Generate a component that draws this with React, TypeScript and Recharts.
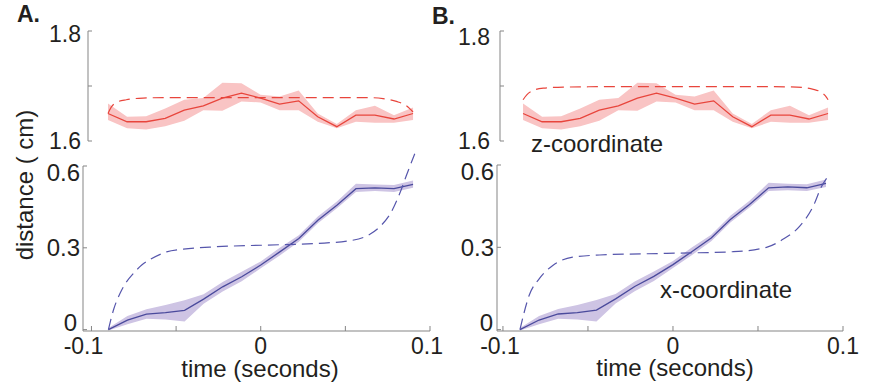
import React from 'react';
import { ComposedChart, Line, Area, XAxis, YAxis, ReferenceLine } from 'recharts';

// ---- data ----
const TIME = [-0.09, -0.07875, -0.0675, -0.05625, -0.045, -0.03375, -0.0225, -0.01125, 0, 0.01125, 0.0225, 0.03375, 0.045, 0.05625, 0.0675, 0.07875, 0.09];

const Z_MEAN = [1.650, 1.635, 1.635, 1.641, 1.656, 1.664, 1.678, 1.687, 1.678, 1.667, 1.673, 1.644, 1.626, 1.647, 1.647, 1.640, 1.650];
const Z_LOW = [1.638, 1.623, 1.621, 1.627, 1.637, 1.656, 1.655, 1.672, 1.670, 1.656, 1.656, 1.635, 1.623, 1.635, 1.633, 1.633, 1.638];
const Z_HIGH = [1.668, 1.644, 1.645, 1.659, 1.675, 1.678, 1.706, 1.705, 1.684, 1.681, 1.692, 1.650, 1.631, 1.656, 1.664, 1.647, 1.661];

const X_MEAN = [0.0, 0.035, 0.057, 0.062, 0.071, 0.112, 0.157, 0.194, 0.237, 0.285, 0.334, 0.401, 0.456, 0.517, 0.520, 0.517, 0.533];
const X_LOW = [-0.003, 0.02, 0.04, 0.037, 0.03, 0.095, 0.14, 0.177, 0.225, 0.272, 0.322, 0.39, 0.445, 0.505, 0.508, 0.505, 0.52];
const X_HIGH = [0.006, 0.05, 0.075, 0.09, 0.108, 0.13, 0.175, 0.212, 0.25, 0.3, 0.346, 0.415, 0.47, 0.535, 0.532, 0.53, 0.547];

// model (dashed) curves
const Z_MODEL_A_T = [-0.09, -0.088, -0.0851, -0.0792, -0.0693, -0.0556, 0.0, 0.0625, 0.0723, 0.0802, 0.0861, 0.089, 0.09];
const Z_MODEL_A = [1.650, 1.662, 1.670, 1.675, 1.678, 1.679, 1.679, 1.679, 1.677, 1.672, 1.664, 1.656, 1.653];

const Z_MODEL_B_T = [-0.09, -0.0878, -0.0839, -0.078, -0.0662, -0.0269, 0.0518, 0.0715, 0.0813, 0.0862, 0.0892, 0.09];
const Z_MODEL_B = [1.675, 1.684, 1.692, 1.696, 1.698, 1.699, 1.699, 1.698, 1.694, 1.688, 1.679, 1.675];

const X_MODEL_A_T = [-0.09, -0.087, -0.0831, -0.0792, -0.0752, -0.0703, -0.0654, -0.0556, -0.0457, -0.0261, 0.0034, 0.033, 0.0526, 0.0625, 0.0703, 0.0772, 0.0821, 0.0861, 0.091];
const X_MODEL_A = [0.0, 0.072, 0.133, 0.176, 0.206, 0.237, 0.257, 0.285, 0.295, 0.304, 0.31, 0.316, 0.326, 0.343, 0.377, 0.432, 0.499, 0.566, 0.645];

const X_MODEL_B_T = [-0.09, -0.0845, -0.0786, -0.0707, -0.059, -0.0432, -0.0039, 0.0354, 0.055, 0.0649, 0.0747, 0.0825, 0.0874, 0.0904];
const X_MODEL_B = [0.0, 0.126, 0.186, 0.234, 0.264, 0.272, 0.278, 0.284, 0.30, 0.33, 0.378, 0.45, 0.522, 0.552];

const X_TICKS = [-0.1, -0.05, 0, 0.05, 0.1];
const X_TICK_LABELS = ['-0.1', '', '0', '', '0.1'];
const Z_TICKS = [1.6, 1.7, 1.8];
const Z_TICK_LABELS = ['1.6', '', '1.8'];
const D_TICKS = [0, 0.3, 0.6];
const D_TICK_LABELS = ['0', '0.3', '0.6'];

// ---- styles ----
const FONT = '"Liberation Sans", Arial, Helvetica, sans-serif';
const AXIS = '#858585';
const TEXT = '#231f20';
const RED = '#e8453c';
const PINK = '#f9c4c4';
const PURPLE = '#4a4a9c';
const LAVENDER = '#cec4e4';
const BLUE_DASH = '#5656ac';

const W = 874;
const H = 385;

const zRows = TIME.map((t, i) => ({ t, mean: Z_MEAN[i], band: [Z_LOW[i], Z_HIGH[i]] }));
const xRows = TIME.map((t, i) => ({ t, mean: X_MEAN[i], band: [X_LOW[i], X_HIGH[i]] }));
const zModelA = Z_MODEL_A_T.map((t, i) => ({ t, v: Z_MODEL_A[i] }));
const zModelB = Z_MODEL_B_T.map((t, i) => ({ t, v: Z_MODEL_B[i] }));
const xModelA = X_MODEL_A_T.map((t, i) => ({ t, v: X_MODEL_A[i] }));
const xModelB = X_MODEL_B_T.map((t, i) => ({ t, v: X_MODEL_B[i] }));

function labelFor(value: number, ticks: number[], labels: string[]) {
  const idx = ticks.findIndex((v) => Math.abs(v - value) < 1e-9);
  return idx >= 0 ? labels[idx] : '';
}

function makeYTick(axisX: number, ticks: number[], labels: string[], gapFor: (v: number) => number, fontSize: number, dyFor: (v: number) => number) {
  return (props: any) => {
    const { y, payload } = props;
    const v = payload.value;
    return (
      <g>
        <line x1={axisX} y1={y} x2={axisX + 4} y2={y} stroke={AXIS} strokeWidth={1} />
        <text x={axisX - gapFor(v)} y={y + fontSize * 0.36 + dyFor(v)} textAnchor="end" fontSize={fontSize} fontFamily={FONT} fill={TEXT}>
          {labelFor(v, ticks, labels)}
        </text>
      </g>
    );
  };
}

function makeXTick(axisY: number, minusDx: number, plusDx: number) {
  return (props: any) => {
    const { x, payload } = props;
    const v = payload.value;
    const dx = v < 0 ? minusDx : v > 0 ? plusDx : 0;
    return (
      <g>
        <line x1={x} y1={axisY} x2={x} y2={axisY - 5} stroke={AXIS} strokeWidth={1} />
        <text x={x + dx} y={354} textAnchor="middle" fontSize={23} fontFamily={FONT} fill={TEXT}>
          {labelFor(v, X_TICKS, X_TICK_LABELS)}
        </text>
      </g>
    );
  };
}

type TopCfg = { left: number; right: number; top: number; bottom: number; xMin: number; model: { t: number; v: number }[]; gap: number; dy18: number };

function TopChart({ cfg }: { cfg: TopCfg }) {
  return (
    <div style={{ position: 'absolute', left: 0, top: 0 }}>
      <ComposedChart
        width={W}
        height={H}
        data={zRows}
        margin={{ top: cfg.top, left: cfg.left - 1, right: W - cfg.right, bottom: H - cfg.bottom }}
      >
        <XAxis type="number" dataKey="t" domain={[cfg.xMin, 0.1]} allowDataOverflow hide />
        <YAxis
          type="number"
          width={1}
          domain={[1.6, 1.8]}
          allowDataOverflow
          ticks={Z_TICKS}
          interval={0}
          axisLine={{ stroke: AXIS, strokeWidth: 1 }}
          tickLine={false}
          tickSize={0}
          tickMargin={0}
          tick={makeYTick(cfg.left, Z_TICKS, Z_TICK_LABELS, () => cfg.gap, 23, (v) => (v > 1.75 ? cfg.dy18 : 0))}
        />
        <Area dataKey="band" stroke="none" fill={PINK} fillOpacity={1} isAnimationActive={false} />
        <Line dataKey="mean" stroke={RED} strokeWidth={1.3} dot={false} isAnimationActive={false} />
        <Line data={cfg.model} dataKey="v" type="monotone" stroke={RED} strokeWidth={1.2} strokeDasharray="11 6" dot={false} isAnimationActive={false} />
      </ComposedChart>
    </div>
  );
}

type BotCfg = { left: number; right: number; top06: number; bottom: number; xMin: number; model: { t: number; v: number }[]; minusDx: number; plusDx: number; zeroGap: number };

function BottomChart({ cfg }: { cfg: BotCfg }) {
  const yMin = -0.005;
  const yMax = 0.66;
  const k = (cfg.bottom - cfg.top06) / (0.6 - yMin);
  const plotTop = cfg.bottom - (yMax - yMin) * k;
  return (
    <div style={{ position: 'absolute', left: 0, top: 0 }}>
      <ComposedChart
        width={W}
        height={H}
        data={xRows}
        margin={{ top: plotTop, left: cfg.left - 1, right: W - cfg.right, bottom: H - cfg.bottom - 1 }}
      >
        <XAxis
          type="number"
          dataKey="t"
          height={1}
          domain={[cfg.xMin, 0.1]}
          allowDataOverflow
          ticks={X_TICKS}
          interval={0}
          axisLine={{ stroke: AXIS, strokeWidth: 1 }}
          tickLine={false}
          tickSize={0}
          tickMargin={0}
          tick={makeXTick(cfg.bottom, cfg.minusDx, cfg.plusDx)}
        />
        <YAxis
          type="number"
          width={1}
          domain={[yMin, yMax]}
          allowDataOverflow
          ticks={D_TICKS}
          interval={0}
          axisLine={false}
          tickLine={false}
          tickSize={0}
          tickMargin={0}
          tick={makeYTick(cfg.left, D_TICKS, D_TICK_LABELS, (v) => (v < 0.1 ? cfg.zeroGap : 3), 24, (v) => (v > 0.5 ? 6 : v < 0.1 ? -7 : 0))}
        />
        <ReferenceLine
          segment={[{ x: cfg.xMin, y: yMin }, { x: cfg.xMin, y: 0.6 }]}
          stroke={AXIS}
          strokeWidth={1}
          ifOverflow="visible"
        />
        <Area dataKey="band" stroke="none" fill={LAVENDER} fillOpacity={1} isAnimationActive={false} />
        <Line dataKey="mean" stroke={PURPLE} strokeWidth={1.3} dot={false} isAnimationActive={false} />
        <Line data={cfg.model} dataKey="v" type="monotone" stroke={BLUE_DASH} strokeWidth={1.2} strokeDasharray="11 6" dot={false} isAnimationActive={false} />
      </ComposedChart>
    </div>
  );
}

function Labels() {
  const t = { fontFamily: FONT, fill: TEXT } as const;
  return (
    <svg width={W} height={H} style={{ position: 'absolute', left: 0, top: 0, pointerEvents: 'none' }}>
      <text x={17} y={22} fontSize={23} fontWeight="bold" {...t}>A.</text>
      <text x={432} y={24} fontSize={23} fontWeight="bold" {...t}>B.</text>
      <text x={33} y={185} fontSize={24} textAnchor="middle" transform="rotate(-90 33 185)" {...t}>distance ( cm)</text>
      <text x={260} y={377} fontSize={24} textAnchor="middle" {...t}>time (seconds)</text>
      <text x={675} y={376} fontSize={24} textAnchor="middle" {...t}>time (seconds)</text>
      <text x={531} y={152} fontSize={24} {...t}>z-coordinate</text>
      <text x={660} y={298} fontSize={24} {...t}>x-coordinate</text>
    </svg>
  );
}

export default function App() {
  return (
    <div style={{ position: 'absolute', left: 0, top: 0, width: W, height: H, background: '#ffffff', overflow: 'hidden' }}>
      <TopChart cfg={{ left: 88, right: 430, top: 31, bottom: 141, xMin: -0.1018, model: zModelA, gap: 7, dy18: 3 }} />
      <TopChart cfg={{ left: 500, right: 845, top: 31, bottom: 141, xMin: -0.1036, model: zModelB, gap: 10, dy18: 6 }} />
      <BottomChart cfg={{ left: 83, right: 430, top06: 166, bottom: 331, xMin: -0.105, model: xModelA, minusDx: -8, plusDx: -3, zeroGap: 6 }} />
      <BottomChart cfg={{ left: 497, right: 843, top06: 165, bottom: 331, xMin: -0.1035, model: xModelB, minusDx: -3, plusDx: 0, zeroGap: 4 }} />
      <Labels />
    </div>
  );
}
